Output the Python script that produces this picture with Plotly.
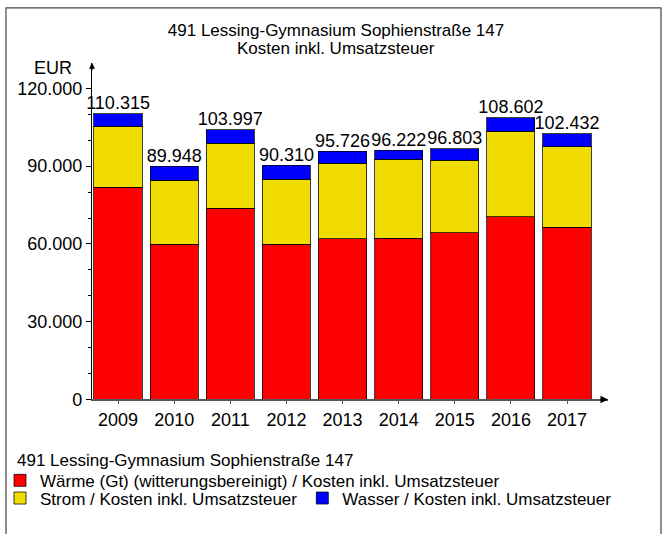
import plotly.graph_objects as go

years = [2009, 2010, 2011, 2012, 2013, 2014, 2015, 2016, 2017]
year_labels = ["2009", "2010", "2011", "2012", "2013", "2014", "2015", "2016", "2017"]
waerme = [81900, 59900, 73700, 59800, 62000, 62200, 64400, 70400, 66400]
strom = [23600, 24600, 25200, 25200, 29100, 30500, 27800, 33100, 31100]
wasser = [4815, 5448, 5097, 5310, 4626, 3522, 4603, 5102, 4932]
totals = [110315, 89948, 103997, 90310, 95726, 96222, 96803, 108602, 102432]
total_labels = ["110.315", "89.948", "103.997", "90.310", "95.726", "96.222", "96.803", "108.602", "102.432"]

FONT = "Liberation Sans, Arial, sans-serif"
FS = 18
FT = 17
W, H = 668, 534

def px(x):
    return x / W

def py(y):
    return (H - y) / H

fig = go.Figure()
line = dict(color="rgba(0,0,0,0.75)", width=1)
fig.add_trace(go.Bar(x=years, y=waerme, name="Wärme (Gt) (witterungsbereinigt) / Kosten inkl. Umsatzsteuer",
                     marker=dict(color="#FF0000", line=line), width=0.857, legend="legend"))
fig.add_trace(go.Bar(x=years, y=strom, name="Strom / Kosten inkl. Umsatzsteuer",
                     marker=dict(color="#F0DC00", line=line), width=0.857, legend="legend2"))
fig.add_trace(go.Bar(x=years, y=wasser, name="Wasser / Kosten inkl. Umsatzsteuer",
                     marker=dict(color="#0000FF", line=line), width=0.857, legend="legend2"))
fig.add_trace(go.Scatter(x=years, y=totals, text=total_labels, mode="text", textposition="top center",
                         textfont=dict(size=FS, color="#000", family=FONT), showlegend=False, cliponaxis=False))

x0p, x1p = 92, 608
y0p, y1p = 407, 64

fig.update_layout(
    width=W, height=H,
    margin=dict(l=0, r=0, t=0, b=0),
    paper_bgcolor="white", plot_bgcolor="white",
    barmode="stack",
    separators=",.",
    font=dict(family=FONT, size=FS, color="#000"),
    title=dict(text="491 Lessing-Gymnasium Sophienstraße 147",
               x=0.503, xanchor="center", y=py(30), yanchor="middle",
               font=dict(size=FT, family=FONT)),
    xaxis=dict(domain=[px(x0p), px(x1p)], range=[2008.536, 2017.73],
               tickvals=years, ticktext=year_labels, showgrid=False, zeroline=False,
               showline=True, linecolor="#555", linewidth=1.5,
               ticks="outside", ticklen=3, tickcolor="#555",
               tickfont=dict(size=FS, family=FONT)),
    yaxis=dict(domain=[py(y0p), py(y1p)], range=[0, 129900],
               tickvals=[0, 30000, 60000, 90000, 120000], tickformat=",.0f",
               showgrid=False, zeroline=False, showline=True, linecolor="#000", linewidth=1.2,
               ticks="outside", ticklen=5, tickcolor="#000",
               minor=dict(dtick=10000, ticks="outside", ticklen=3, tickcolor="#000"),
               tickfont=dict(size=FS, family=FONT)),
    legend=dict(x=px(0), y=py(490), xanchor="left", yanchor="middle", orientation="h",
                font=dict(size=FT, family=FONT), bgcolor="rgba(0,0,0,0)",
                itemwidth=30, traceorder="normal"),
    legend2=dict(x=px(0), y=py(508), xanchor="left", yanchor="middle", orientation="h",
                 font=dict(size=FT, family=FONT), bgcolor="rgba(0,0,0,0)",
                 itemwidth=30, traceorder="normal"),
    shapes=[dict(type="rect", xref="paper", yref="paper", x0=px(6), x1=px(661), y0=-0.05, y1=py(8),
                 line=dict(color="#444", width=1.2), fillcolor="rgba(0,0,0,0)", layer="below")],
    annotations=[
        dict(text="Kosten inkl. Umsatzsteuer", xref="paper", yref="paper", x=0.503, y=py(49),
             xanchor="center", yanchor="middle", showarrow=False, font=dict(size=FT, family=FONT)),
        dict(text="491 Lessing-Gymnasium Sophienstraße 147", xref="paper", yref="paper", x=px(15), y=py(469),
             xanchor="left", yanchor="middle", showarrow=False, font=dict(size=FT, family=FONT)),
        dict(text="EUR", xref="paper", yref="paper", x=px(74), y=py(69), xanchor="right", yanchor="middle",
             showarrow=False, font=dict(size=FS, family=FONT)),
        dict(text="", xref="paper", yref="paper", x=px(x0p), y=py(y1p), showarrow=True,
             ax=0, ay=9, arrowhead=2, arrowsize=1, arrowwidth=1.2, arrowcolor="#000"),
        dict(text="", xref="paper", yref="paper", x=px(x1p), y=py(y0p), showarrow=True,
             ax=-9, ay=0, arrowhead=2, arrowsize=1, arrowwidth=1.5, arrowcolor="#000"),
    ],
)

fig.write_html("out.html", config={"displayModeBar": False},
               post_script="document.body.style.margin='0';document.documentElement.style.margin='0';")
